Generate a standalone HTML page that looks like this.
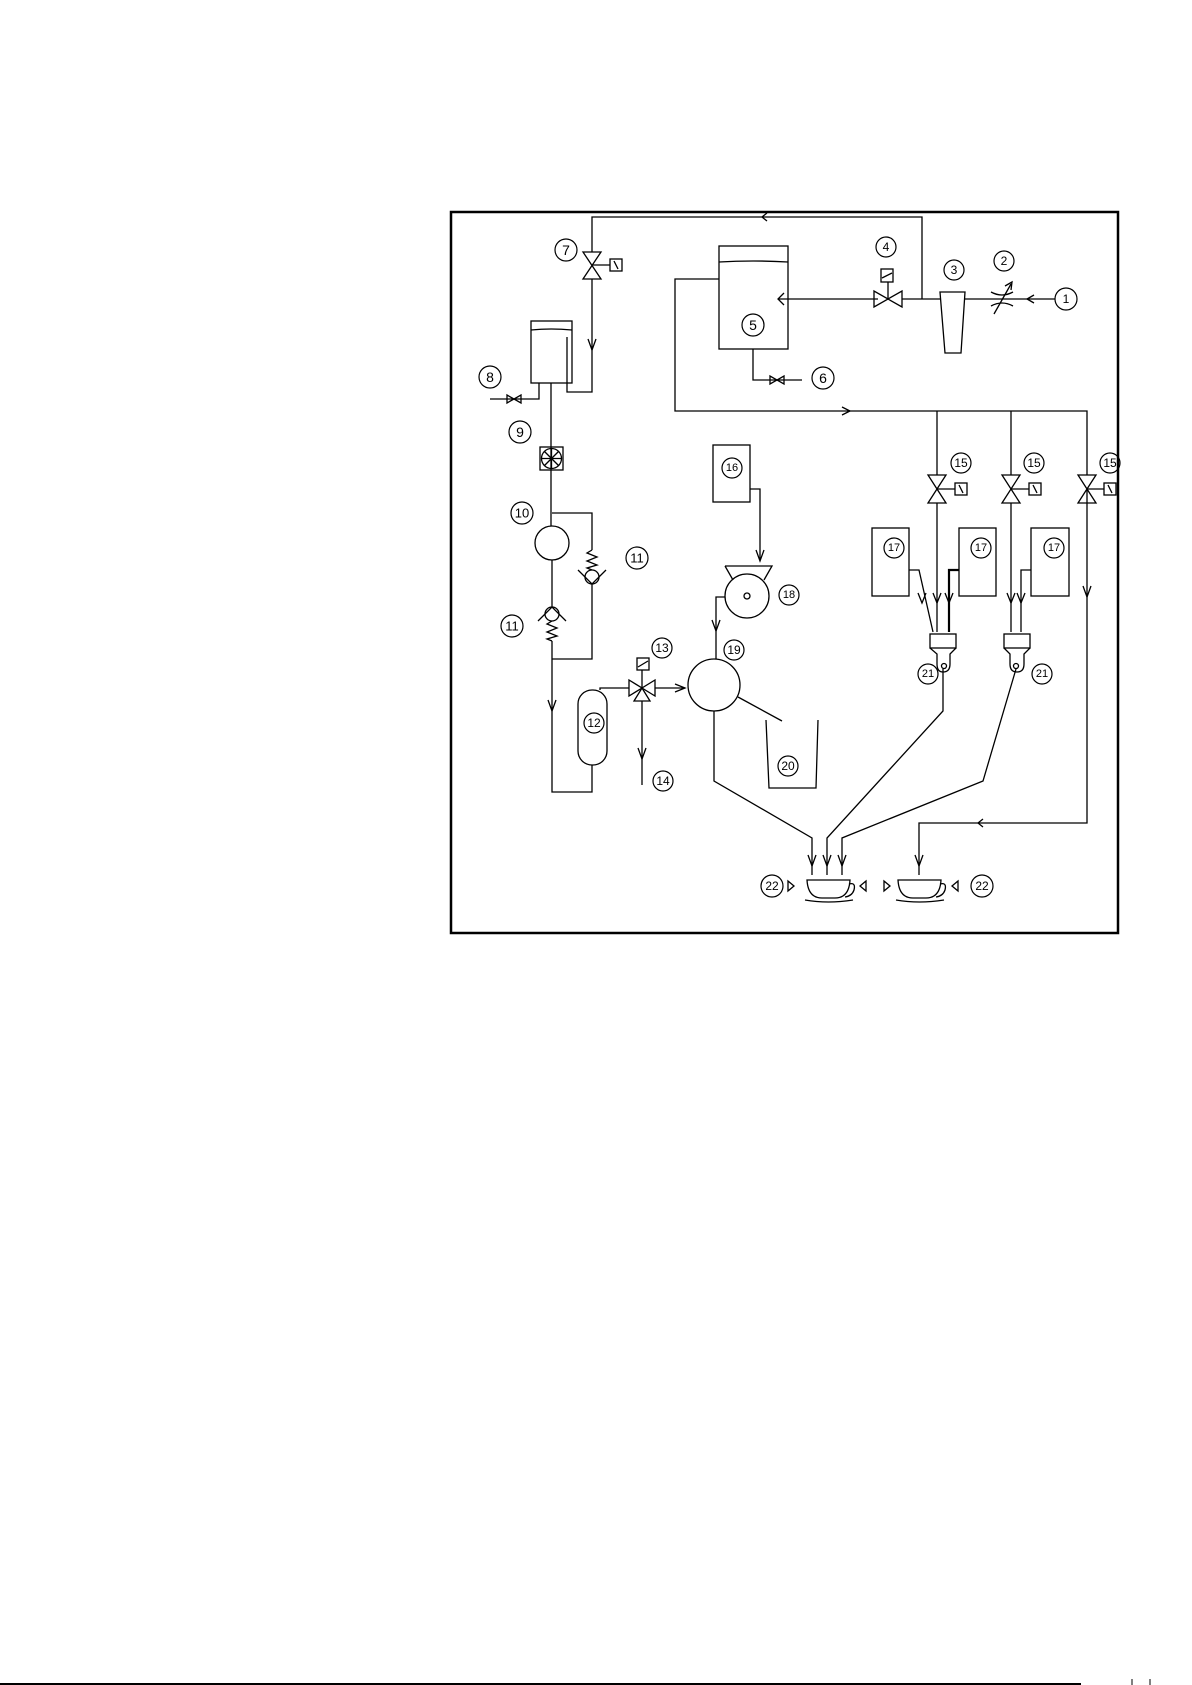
<!DOCTYPE html>
<html><head><meta charset="utf-8"><style>
html,body{margin:0;padding:0;background:#fff;}
svg{display:block;}
text{font-family:"Liberation Sans",sans-serif;font-size:12px;fill:#000;text-anchor:middle;dominant-baseline:central;}
</style></head><body>
<svg width="1192" height="1685" viewBox="0 0 1192 1685" xmlns="http://www.w3.org/2000/svg">
<g fill="none" stroke="#000" stroke-width="1.3">
<rect x="451" y="212" width="667" height="721" stroke-width="2.5"/>
<polyline points="592,252 592,217 922,217 922,299"/>
<polyline points="767,213 762,217 767,221"/>
<path d="M583,252 L601,252 L583,279 L601,279 Z"/>
<line x1="592" y1="265" x2="610" y2="265"/>
<rect x="610" y="259" width="12" height="12"/>
<line x1="614" y1="261" x2="618" y2="269"/>
<polyline points="592,279 592,392 567,392 567,337"/>
<polyline points="588,339 592,350 596,339"/>
<rect x="531" y="321" width="41" height="62"/>
<path d="M531,330 Q551,328 572,330"/>
<polyline points="539,383 539,399 490,399"/>
<path d="M507,395 L507,403 L521,395 L521,403 Z"/>
<line x1="551" y1="383" x2="551" y2="526"/>
<rect x="540" y="447" width="23" height="23"/>
<circle cx="551.5" cy="458.5" r="10"/>
<line x1="544" y1="451" x2="559" y2="466"/><line x1="559" y1="451" x2="544" y2="466"/>
<line x1="541" y1="458.5" x2="562" y2="458.5"/><line x1="551.5" y1="448" x2="551.5" y2="469"/>
<circle cx="552" cy="543" r="17"/>
<polyline points="552,513 592,513 592,550"/>
<polyline points="592,550 587,553 597,557 587,561 597,565 587,568 592,570"/>
<circle cx="592" cy="577" r="7"/>
<polyline points="578,570 592,584 606,570"/>
<polyline points="592,584 592,659 552,659"/>
<line x1="552" y1="560" x2="552" y2="607"/>
<circle cx="552" cy="614" r="7"/>
<polyline points="538,621 552,607 566,621"/>
<polyline points="552,621 547,624 557,628 547,632 557,636 547,639 552,641"/>
<polyline points="552,641 552,792 592,792 592,765"/>
<polyline points="548,700 552,711 556,700"/>
<rect x="578" y="690" width="29" height="75" rx="14"/>
<polyline points="600,690 600,688 629,688"/>
<path d="M629,680 L629,696 L642,688 Z"/>
<path d="M655,680 L655,696 L642,688 Z"/>
<path d="M634,701 L650,701 L642,688 Z"/>
<line x1="642" y1="688" x2="642" y2="670"/>
<rect x="637" y="658" width="12" height="12"/>
<line x1="638" y1="667" x2="648" y2="661"/>
<line x1="655" y1="688" x2="685" y2="688"/>
<polyline points="675,684 685,688 675,692"/>
<line x1="642" y1="701" x2="642" y2="785"/>
<polyline points="638,748 642,759 646,748"/>
<circle cx="714" cy="685" r="26"/>
<line x1="738" y1="697" x2="782" y2="721"/>
<polyline points="766,720 769,788 816,788 818,720"/>
<polyline points="714,711 714,781 812,838 812,875"/>
<polyline points="808,855 812,866 816,855"/>
<polyline points="943,669 943,711 827,838 827,875"/>
<polyline points="823,855 827,866 831,855"/>
<polyline points="1016,669 983,781 842,838 842,875"/>
<polyline points="838,855 842,866 846,855"/>
<polyline points="1087,489 1087,823 919,823 919,875"/>
<polyline points="983,819 978,823 983,827"/>
<polyline points="915,855 919,866 923,855"/>
<polyline points="1083,586 1087,597 1091,586"/>
<path d="M807,880 L850,880 Q849,898 835,898 L822,898 Q808,898 807,880 Z"/>
<path d="M849,884 Q856,882 854,890 Q852,896 845,897"/>
<path d="M805,900 Q828,904 853,900"/>
<path d="M898,880 L941,880 Q940,898 926,898 L913,898 Q899,898 898,880 Z"/>
<path d="M940,884 Q947,882 945,890 Q943,896 936,897"/>
<path d="M896,900 Q919,904 944,900"/>
<path d="M788,881 L794,886 L788,891 Z"/>
<path d="M866,881 L860,886 L866,891 Z"/>
<path d="M884,881 L890,886 L884,891 Z"/>
<path d="M958,881 L952,886 L958,891 Z"/>
<rect x="719" y="246" width="69" height="103"/>
<path d="M719,262 Q753,260 788,262"/>
<line x1="778" y1="299" x2="878" y2="299"/>
<polyline points="784,293 778,299 784,305"/>
<polyline points="753,349 753,380 802,380"/>
<path d="M770,376 L770,384 L784,376 L784,384 Z"/>
<polyline points="719,279 675,279 675,411 1087,411 1087,475"/>
<polyline points="842,407 850,411 842,415"/>
<path d="M874,291 L874,307 L902,291 L902,307 Z"/>
<line x1="888" y1="299" x2="888" y2="282"/>
<rect x="881" y="269" width="12" height="13"/>
<line x1="882" y1="278" x2="892" y2="273"/>
<line x1="902" y1="299" x2="940" y2="299"/>
<path d="M940,292 L965,292 L961,353 L945,353 Z"/>
<line x1="965" y1="299" x2="1055" y2="299"/>
<polyline points="1034,295 1027,299 1034,303"/>
<path d="M991,292 Q1002,298 1013,292"/>
<path d="M991,306 Q1002,300 1013,306"/>
<line x1="994" y1="314" x2="1011" y2="284"/>
<polyline points="1005,286 1012,282 1011,290"/>
<line x1="937" y1="411" x2="937" y2="475"/>
<line x1="1011" y1="411" x2="1011" y2="475"/>
<path d="M928,475 L946,475 L928,503 L946,503 Z"/>
<path d="M1002,475 L1020,475 L1002,503 L1020,503 Z"/>
<path d="M1078,475 L1096,475 L1078,503 L1096,503 Z"/>
<line x1="937" y1="489" x2="955" y2="489"/><rect x="955" y="483" width="12" height="12"/><line x1="959" y1="485" x2="963" y2="493"/>
<line x1="1011" y1="489" x2="1029" y2="489"/><rect x="1029" y="483" width="12" height="12"/><line x1="1033" y1="485" x2="1037" y2="493"/>
<line x1="1087" y1="489" x2="1104" y2="489"/><rect x="1104" y="483" width="12" height="12"/><line x1="1108" y1="485" x2="1112" y2="493"/>
<line x1="937" y1="503" x2="937" y2="632"/>
<line x1="1011" y1="503" x2="1011" y2="632"/>
<rect x="872" y="528" width="37" height="68"/>
<rect x="959" y="528" width="37" height="68"/>
<rect x="1031" y="528" width="38" height="68"/>
<polyline points="909,570 919,570 933,632"/>
<polyline points="959,570 949,570 949,632" stroke-width="2.2"/>
<polyline points="1031,570 1021,570 1021,632"/>
<polyline points="918,593 922,603 926,593"/>
<polyline points="933,593 937,603 941,593"/>
<polyline points="945,593 949,603 953,593"/>
<polyline points="1007,593 1011,603 1015,593"/>
<polyline points="1017,593 1021,603 1025,593"/>
<rect x="930" y="634" width="26" height="14"/>
<path d="M930,648 L937,654 L937,664 Q937,672 943,672 Q950,672 950,664 L950,654 L956,648"/>
<circle cx="944" cy="666" r="2.5"/>
<rect x="1004" y="634" width="26" height="14"/>
<path d="M1004,648 L1010,654 L1010,664 Q1010,672 1017,672 Q1024,672 1024,664 L1024,654 L1030,648"/>
<circle cx="1016" cy="666" r="2.5"/>
<rect x="713" y="445" width="37" height="57"/>
<polyline points="750,489 760,489 760,560"/>
<polyline points="756,550 760,561 764,550"/>
<path d="M725,566 L772,566 L764,580 M725,566 L733,580"/>
<circle cx="747" cy="596" r="22"/>
<circle cx="747" cy="596" r="3"/>
<polyline points="725,597 716,597 716,659"/>
<polyline points="712,620 716,631 720,620"/>
</g>
<g fill="none" stroke="#000" stroke-width="1.2">
<circle cx="566" cy="250" r="11"/><circle cx="490" cy="377" r="11"/><circle cx="520" cy="432" r="11"/>
<circle cx="522" cy="513" r="11"/><circle cx="637" cy="558" r="11"/><circle cx="512" cy="626" r="11"/>
<circle cx="594" cy="723" r="10"/><circle cx="662" cy="648" r="10"/><circle cx="663" cy="781" r="10"/>
<circle cx="734" cy="650" r="10"/><circle cx="788" cy="766" r="10"/><circle cx="772" cy="886" r="11"/>
<circle cx="982" cy="886" r="11"/><circle cx="753" cy="325" r="11"/><circle cx="823" cy="378" r="11"/>
<circle cx="886" cy="247" r="10"/><circle cx="954" cy="270" r="10"/><circle cx="1004" cy="261" r="10"/>
<circle cx="1066" cy="299" r="11"/><circle cx="732" cy="468" r="10"/><circle cx="789" cy="595" r="10"/>
<circle cx="961" cy="463" r="10"/><circle cx="1034" cy="463" r="10"/><circle cx="1110" cy="463" r="10"/>
<circle cx="894" cy="548" r="10"/><circle cx="981" cy="548" r="10"/><circle cx="1054" cy="548" r="10"/>
<circle cx="928" cy="674" r="10"/><circle cx="1042" cy="674" r="10"/>
</g>
<text x="566" y="250" style="font-size:14px">7</text><text x="490" y="377" style="font-size:14px">8</text><text x="520" y="432" style="font-size:14px">9</text>
<text x="522" y="513" style="font-size:13px">10</text><text x="637" y="558" style="font-size:13px">11</text><text x="512" y="626" style="font-size:13px">11</text>
<text x="594" y="723">12</text><text x="662" y="648">13</text><text x="663" y="781">14</text>
<text x="734" y="650">19</text><text x="788" y="766">20</text><text x="772" y="886">22</text>
<text x="982" y="886">22</text><text x="753" y="325" style="font-size:14px">5</text><text x="823" y="378" style="font-size:14px">6</text>
<text x="886" y="247">4</text><text x="954" y="270">3</text><text x="1004" y="261">2</text>
<text x="1066" y="299">1</text><text x="732" y="468" style="font-size:11px">16</text><text x="789" y="595" style="font-size:11px">18</text>
<text x="961" y="463">15</text><text x="1034" y="463">15</text><text x="1110" y="463">15</text>
<text x="894" y="548" style="font-size:11px">17</text><text x="981" y="548" style="font-size:11px">17</text><text x="1054" y="548" style="font-size:11px">17</text>
<text x="928" y="674" style="font-size:11px">21</text><text x="1042" y="674" style="font-size:11px">21</text>
<line x1="0" y1="1684" x2="1081" y2="1684" stroke="#000" stroke-width="2"/>
<line x1="1132" y1="1679" x2="1132" y2="1685" stroke="#000" stroke-width="1"/>
<line x1="1150" y1="1679" x2="1150" y2="1685" stroke="#000" stroke-width="1"/>
</svg>
</body></html>
